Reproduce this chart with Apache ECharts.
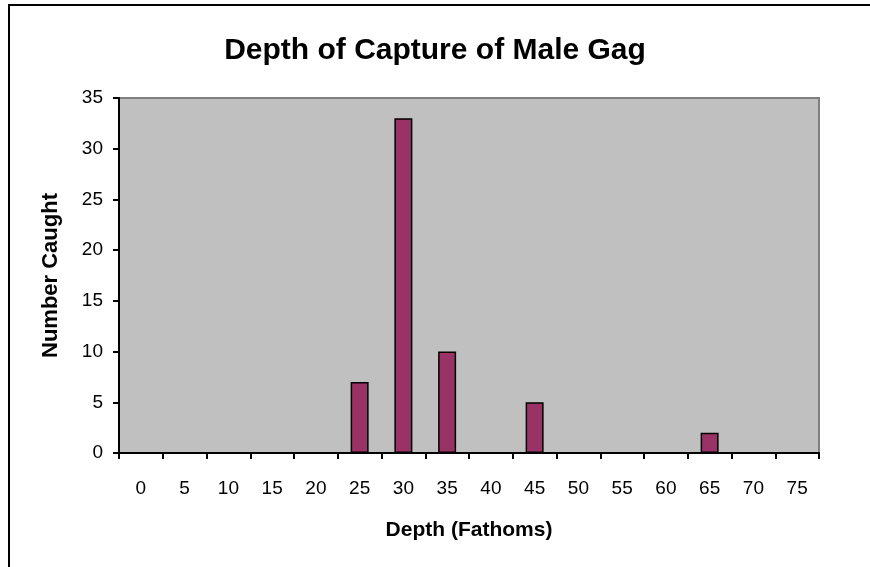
<!DOCTYPE html>
<html>
<head>
<meta charset="utf-8">
<title>Depth of Capture of Male Gag</title>
<script src="https://cdn.jsdelivr.net/npm/echarts@6/dist/echarts.min.js"></script>
<style>
  html, body { margin: 0; padding: 0; background: #fff; }
  #chart { width: 870px; height: 567px; }
</style>
</head>
<body>
<div id="chart"></div>
<script>
// depth classes (fathoms) and number of male gag caught in each
const depths = ['0', '5', '10', '15', '20', '25', '30', '35', '40', '45', '50', '55', '60', '65', '70', '75']
const caught = [0, 0, 0, 0, 0, 7, 33, 10, 0, 5, 0, 0, 0, 2, 0, 0]

const font = 'Liberation Sans, Arial, sans-serif'

const chart = echarts.init(document.getElementById('chart'))

chart.setOption({
  animation: false,
  backgroundColor: '#fff',
  title: {
    text: 'Depth of Capture of Male Gag',
    left: 'center',
    top: 31,
    textStyle: { fontFamily: font, fontSize: 30, fontWeight: 'bold', color: '#000' }
  },
  // outer frame of the chart (runs off the right and bottom edges)
  graphic: [{
    type: 'rect',
    shape: { x: 9, y: 5, width: 900, height: 600 },
    style: { fill: 'none', stroke: '#000', lineWidth: 2 },
    silent: true
  }],
  grid: {
    left: 119,
    right: 51,
    top: 98,
    bottom: 114,
    show: true,
    backgroundColor: '#c0c0c0',
    borderColor: '#808080',
    borderWidth: 2
  },
  xAxis: {
    type: 'category',
    data: depths,
    name: 'Depth (Fathoms)',
    nameLocation: 'middle',
    nameGap: 67,
    nameTextStyle: { fontFamily: font, fontSize: 21, fontWeight: 'bold', color: '#000' },
    axisLine: { lineStyle: { color: '#000', width: 2 } },
    axisTick: { show: true, length: 6, lineStyle: { color: '#000', width: 2 } },
    axisLabel: { margin: 26, fontFamily: font, fontSize: 19, color: '#000' },
    splitLine: { show: false }
  },
  yAxis: {
    type: 'value',
    min: 0,
    max: 35,
    interval: 5,
    name: 'Number Caught',
    nameLocation: 'middle',
    nameGap: 57,
    nameTextStyle: { fontFamily: font, fontSize: 22, fontWeight: 'bold', color: '#000' },
    axisLine: { show: true, lineStyle: { color: '#000', width: 2 } },
    axisTick: { show: true, length: 6, lineStyle: { color: '#000', width: 2 } },
    axisLabel: { margin: 16, fontFamily: font, fontSize: 19, color: '#000' },
    splitLine: { show: false }
  },
  series: [{
    name: 'Number Caught',
    type: 'bar',
    data: caught,
    barWidth: 18,
    itemStyle: { color: '#993366', borderColor: '#000', borderWidth: 1.5 }
  }]
})
</script>
</body>
</html>
